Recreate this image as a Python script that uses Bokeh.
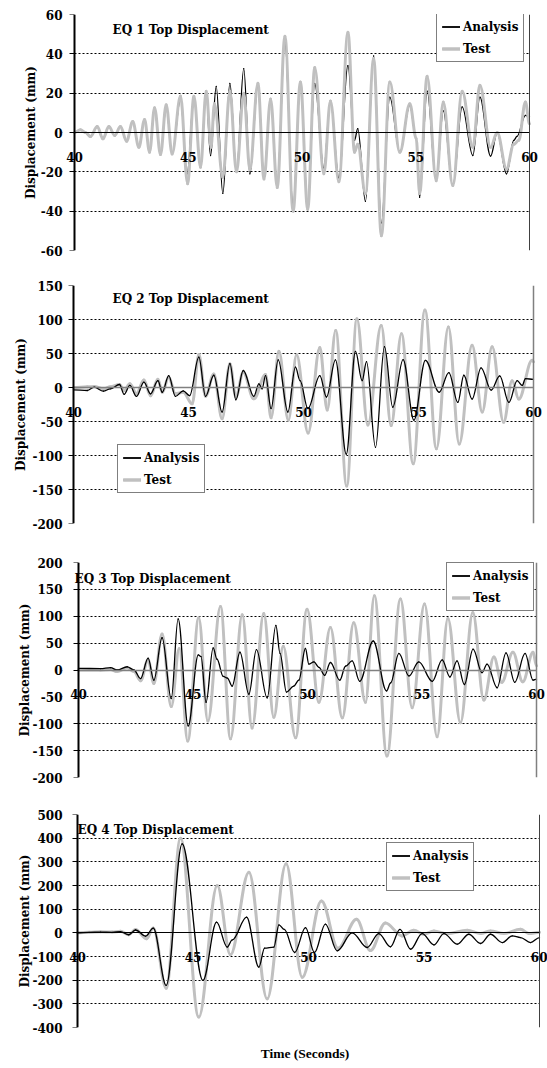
from bokeh.plotting import figure
from bokeh.layouts import column
from bokeh.models import (Range1d, FixedTicker, Legend, LegendItem, Label, Span,
                          LinearAxis, BoxAnnotation)
from bokeh.embed import file_html
from bokeh.resources import INLINE

FONT = "DejaVu Serif"
TEST_COLOR = "#C0C0C0"

x_ticks = [40, 45, 50, 55, 60]
x_label = "Time (Seconds)"
y_label = "Displacement (mm)"
series_names = ["Analysis", "Test"]
titles = ["EQ 1 Top Displacement", "EQ 2 Top Displacement",
          "EQ 3 Top Displacement", "EQ 4 Top Displacement"]

eq1_ticks = [-60, -40, -20, 0, 20, 40, 60]
eq2_ticks = [-200, -150, -100, -50, 0, 50, 100, 150]
eq3_ticks = [-200, -150, -100, -50, 0, 50, 100, 150, 200]
eq4_ticks = [-400, -300, -200, -100, 0, 100, 200, 300, 400, 500]

# (time s, displacement mm) peaks and troughs
eq1_test = [(40.0, 0), (40.26, 1.4), (40.48, 0), (40.70, -2), (41.0, 3), (41.25, -3.2), (41.51, 3),
            (41.77, -1.5), (42.02, 3), (42.29, -4.4), (42.56, 5.6), (42.83, -7.5), (43.08, 6.6),
            (43.30, -10), (43.52, 12.6), (43.78, -11.2), (44.03, 14.1), (44.29, -10.9), (44.66, 18.5),
            (44.97, -26), (45.25, 18.4), (45.54, -17.7), (45.79, 21), (46.0, -7.5), (46.15, 14.6),
            (46.52, -22.8), (46.83, 21), (47.12, -20), (47.44, 20), (47.71, -19), (48.06, 25),
            (48.33, -23.6), (48.62, 17), (48.91, -28), (49.25, 49), (49.61, -40), (49.93, 25.7),
            (50.25, -39), (50.56, 33), (50.96, -21), (51.25, 16), (51.62, -25), (52.02, 51),
            (52.31, -10), (52.45, -6), (52.79, -31), (53.15, 37.6), (53.49, -52.5), (53.86, 25.7),
            (54.30, -10), (54.74, 14.6), (55.02, -3), (55.17, -31), (55.50, 28.6), (55.90, -24.5),
            (56.21, 15.5), (56.63, -27), (57.04, 21), (57.51, -7.5), (57.82, 24), (58.29, -7.5),
            (58.58, 0), (58.99, -18.5), (59.31, -6), (59.53, -4), (59.82, 15.5), (60.0, 4.4)]
eq1_analysis = [(40.0, 0), (40.26, 1.4), (40.48, 0), (40.70, -2), (41.0, 3), (41.25, -3.2), (41.51, 3),
                (41.77, -1.5), (42.02, 3), (42.29, -4.4), (42.56, 5.6), (42.83, -7.5), (43.08, 6.6),
                (43.30, -10), (43.52, 12), (43.78, -11.5), (44.03, 13), (44.29, -11), (44.66, 17),
                (44.95, -21), (45.25, 18), (45.54, -17), (45.79, 21), (45.98, -11.7), (46.23, 23.5),
                (46.52, -31), (46.83, 25), (47.12, -20), (47.44, 32.5), (47.71, -21), (48.06, 24),
                (48.33, -22), (48.62, 16), (48.91, -26), (49.25, 46), (49.61, -38), (49.93, 25),
                (50.25, -37), (50.56, 25), (50.96, -18), (51.25, 16), (51.62, -23), (52.02, 34),
                (52.31, -4), (52.45, 2), (52.79, -35), (53.15, 39), (53.49, -46), (53.86, 18),
                (54.30, -10), (54.74, 13.8), (55.02, -3), (55.17, -33), (55.50, 21), (55.90, -24.5),
                (56.21, 11), (56.63, -27), (57.04, 13), (57.51, -11.7), (57.82, 18), (58.29, -12),
                (58.58, 0), (58.99, -21), (59.31, -4), (59.45, -2), (59.82, 8.7), (60.0, 8)]

eq2_test = [(40.0, 0), (40.6, 1), (40.9, 1.5), (41.3, -2), (41.6, 1), (42.0, 4.4), (42.2, -4.4),
            (42.45, 5.4), (42.74, -9), (43.06, 11), (43.35, -12), (43.67, 12), (43.86, -7),
            (44.14, 15), (44.43, -9), (44.77, -7), (45.16, -24), (45.45, 48.5), (45.74, -13),
            (46.10, 20), (46.46, -46), (46.80, 35), (47.06, -14), (47.38, 22.5), (47.84, -16.7),
            (48.35, 19), (48.59, -44.6), (48.93, 53.4), (49.34, -48), (49.70, 48), (50.20, -67),
            (50.71, 59), (51.03, -33), (51.40, 84), (51.88, -145), (52.32, 101), (52.80, -55),
            (53.38, 91), (53.81, -56), (54.26, 79), (54.77, -112), (55.28, 114), (55.78, -90),
            (56.30, 89), (56.77, -83), (57.33, 62), (57.77, -36), (58.20, 60), (58.70, -51),
            (59.07, 10), (59.36, -17), (59.94, 40), (60.0, 38)]
eq2_analysis = [(40.0, -3.4), (40.6, -4.4), (40.9, 0.5), (41.3, -5.4), (41.6, -2), (42.0, 4.4),
                (42.2, -10), (42.45, 3), (42.74, -13), (43.06, 8), (43.35, -9.3), (43.67, 10),
                (43.86, -7), (44.14, 17.6), (44.43, -13), (44.77, -5), (45.05, -12), (45.45, 44.6),
                (45.74, -13), (46.10, 18), (46.46, -36), (46.80, 35), (47.06, -18), (47.38, 25),
                (47.84, -13), (48.06, 5.4), (48.20, -2), (48.35, 17.6), (48.59, -31), (48.90, 40.7),
                (49.32, -36), (49.65, 30), (49.85, 10), (50.19, -31), (50.71, 17.6), (51.0, -14),
                (51.39, 40.7), (51.86, -98), (52.26, 53), (52.55, 10), (52.74, 38), (53.13, -88),
                (53.52, 60), (53.88, -29), (54.33, 41), (54.80, -48), (55.30, 40), (55.90, -7),
                (56.32, 22), (56.71, -22), (56.97, 18), (57.33, -17), (57.72, 29), (58.16, -4),
                (58.53, 17), (58.93, -22), (59.29, 10), (59.51, 3), (59.65, 13), (60.0, 12)]

eq3_test = [(40.0, 0), (40.96, 0), (41.40, 1), (41.69, -3), (42.13, 4), (42.42, -3), (42.71, -20),
            (43.04, 19), (43.29, -25), (43.65, 67), (44.05, -68), (44.40, 40), (44.77, -132),
            (45.25, 97), (45.65, -95), (46.20, 118), (46.64, -128), (47.15, 103), (47.58, -108),
            (48.09, 105), (48.53, -88), (48.94, 44), (49.48, -126), (49.98, 113), (50.50, -60),
            (51.0, 79), (51.52, -89), (52.02, 88), (52.53, -60), (52.92, 138), (53.47, -160),
            (54.06, 132), (54.57, -70), (55.11, 123), (55.66, -124), (56.13, 96), (56.68, -98),
            (57.22, 107), (57.70, -56), (58.14, 24), (58.48, -23), (58.97, 33), (59.40, -22),
            (59.85, 33), (60.0, 8)]
eq3_analysis = [(40.0, 3), (40.96, 2.5), (41.40, 4.4), (41.69, 0), (42.13, 6), (42.42, 0), (42.71, -16),
                (43.04, 22), (43.29, -19), (43.65, 60), (44.05, -53), (44.35, 95), (44.79, -104),
                (45.23, 28), (45.35, 25), (45.57, -60), (45.88, 41), (46.05, 20), (46.32, -12),
                (46.50, -15), (46.71, -30), (47.05, 33), (47.44, -45), (47.77, 38), (48.24, -52),
                (48.62, 83), (48.80, 31), (49.08, -41), (49.40, -30), (49.62, -19), (49.91, 40),
                (50.06, 11), (50.28, 15), (50.50, 5), (50.75, -10), (51.0, 14), (51.41, -19),
                (51.66, 7), (51.95, 17), (52.28, -21), (52.87, 54), (53.45, -39), (53.63, -24),
                (53.99, 31), (54.43, -11), (54.86, 15), (55.45, -21), (55.88, 19), (56.22, -13),
                (56.53, 17), (56.85, -27), (57.23, 39), (57.62, -5), (57.84, 11), (58.28, -33),
                (58.67, 32), (59.05, -23), (59.50, 31), (59.85, -19), (60.0, -17)]

eq4_test = [(40.0, 0), (40.5, 2), (41.0, 5), (41.5, 3), (41.86, 7), (42.22, -8), (42.51, 14),
            (42.99, -25), (43.28, 20), (43.84, -234), (44.46, 400), (45.25, -356), (46.05, 200),
            (46.62, -93), (47.42, 256), (48.21, -279), (49.03, 292), (49.73, -188), (50.56, 135),
            (51.28, -65), (52.08, 57), (52.68, -75), (53.33, 42), (54.05, -13), (54.56, 11),
            (54.99, -6), (55.43, 8), (56.0, -4), (56.87, 11), (57.45, -3), (57.88, 8), (58.46, -3),
            (59.18, 15), (59.54, -3), (60.0, 2)]
eq4_analysis = [(40.0, 0), (40.5, 2), (41.0, 3), (41.5, 2), (41.86, 5), (42.22, -8), (42.51, 12),
                (42.95, -14), (43.28, 20), (43.84, -222), (44.53, 376), (45.43, -201), (46.02, 45),
                (46.48, -60), (46.70, -30), (47.32, 66), (47.85, -145), (48.10, -65), (48.50, -60),
                (48.72, 34), (48.95, 15), (49.40, -83), (49.87, 22), (50.26, -83), (50.73, 37),
                (51.24, -76), (51.89, 0), (52.54, -62), (53.04, -3), (53.55, -59), (53.96, 15),
                (54.42, -69), (54.92, -3), (55.43, -51), (55.86, -3), (56.44, -48), (56.94, -6),
                (57.45, -45), (57.88, -6), (58.39, -41), (58.82, -13), (59.18, -20), (59.61, -41),
                (60.0, -20)]

PAGE_W = 547
FRAME_L = 62      # frame edge (pixels); the drawn axes sit inside it
FRAME_R = 547


def smooth_curve(p, pts, color, width):
    """Cubic Bezier pieces between read points, flat tangents at each point."""
    t, v = zip(*pts)
    x0, y0, x1, y1 = list(t[:-1]), list(v[:-1]), list(t[1:]), list(v[1:])
    k = 0.36
    cx0 = [a + k * (b - a) for a, b in zip(x0, x1)]
    cx1 = [b - k * (b - a) for a, b in zip(x0, x1)]
    r = p.bezier(x0=x0, y0=y0, x1=x1, y1=y1, cx0=cx0, cy0=y0, cx1=cx1, cy1=y1,
                 line_color=color, line_width=width, line_cap="round")
    key = p.line(x=list(t), y=list(v), line_color=color, line_width=width, visible=False)
    return [r, key]


def make_panel(title, ticks, test, analysis, height, top, bottom, vis_left, vis_right,
               zero_color, zero_width, edge_color, edge_width, test_on_top,
               legend_xy, title_xy, label_standoff):
    scale = (vis_right - vis_left) / (x_ticks[-1] - x_ticks[0])
    x_start = x_ticks[0] - (vis_left - FRAME_L) / scale
    x_end = x_ticks[-1] + (FRAME_R - vis_right) / scale
    p = figure(width=PAGE_W, height=height, title=None, toolbar_location=None,
               output_backend="svg",
               x_range=Range1d(x_start, x_end),
               y_range=Range1d(ticks[0], ticks[-1]),
               min_border_left=FRAME_L, min_border_right=PAGE_W - FRAME_R,
               min_border_top=top, min_border_bottom=bottom)
    p.outline_line_color = None
    p.background_fill_color = "white"
    p.border_fill_color = "white"

    # horizontal axis on the zero line
    xa = p.xaxis[0]
    xa.fixed_location = 0
    xa.bounds = (x_ticks[0], x_ticks[-1])
    xa.ticker = FixedTicker(ticks=x_ticks)
    xa.axis_line_color = zero_color
    xa.axis_line_width = zero_width
    xa.major_tick_line_color = None
    xa.minor_tick_line_color = None
    xa.major_tick_out = 0
    xa.major_tick_in = 0
    xa.major_label_standoff = 19
    xa.major_label_text_font = FONT
    xa.major_label_text_font_style = "bold"
    xa.major_label_text_font_size = "12px"
    xa.major_label_text_color = "black"

    # tick labels + axis title at the frame edge
    ya = p.yaxis[0]
    ya.ticker = FixedTicker(ticks=ticks)
    ya.major_label_overrides = {t: str(t) for t in ticks}
    ya.axis_line_color = None
    ya.major_tick_line_color = None
    ya.minor_tick_line_color = None
    ya.major_tick_out = 0
    ya.major_tick_in = 0
    ya.major_label_standoff = 0
    ya.major_label_text_font = FONT
    ya.major_label_text_font_style = "bold"
    ya.major_label_text_font_size = "12px"
    ya.major_label_text_color = "black"
    ya.axis_label = y_label
    ya.axis_label_text_font = FONT
    ya.axis_label_text_font_style = "bold"
    ya.axis_label_text_font_size = "12px"
    ya.axis_label_text_color = "black"
    ya.axis_label_standoff = label_standoff

    # vertical axis line with outward ticks at t = 40
    yline = LinearAxis(fixed_location=x_ticks[0], ticker=FixedTicker(ticks=ticks),
                       axis_line_color="black", axis_line_width=2,
                       major_tick_line_color="black", major_tick_out=5, major_tick_in=0,
                       minor_tick_line_color=None, major_label_text_color=None)
    p.add_layout(yline, "left")

    p.xgrid.visible = False
    p.ygrid.ticker = FixedTicker(ticks=ticks)
    p.ygrid.grid_line_color = "black"
    p.ygrid.grid_line_dash = "2 2"
    p.ygrid.grid_line_width = 1
    p.ygrid.level = "image"

    # blank the frame outside the 40-60 s plot area
    p.add_layout(BoxAnnotation(right=x_ticks[0], fill_color="white", fill_alpha=1,
                               line_color=None, level="underlay"))
    p.add_layout(BoxAnnotation(left=x_ticks[-1], fill_color="white", fill_alpha=1,
                               line_color=None, level="underlay"))
    p.add_layout(Span(location=x_ticks[-1], dimension="height",
                      line_color=edge_color, line_width=edge_width))

    if test_on_top:
        k_a = smooth_curve(p, analysis, "black", 1.3)
        k_t = smooth_curve(p, test, TEST_COLOR, 3)
    else:
        k_t = smooth_curve(p, test, TEST_COLOR, 3)
        k_a = smooth_curve(p, analysis, "black", 1.3)

    legend = Legend(items=[LegendItem(label=series_names[0], renderers=k_a),
                           LegendItem(label=series_names[1], renderers=k_t)],
                    location=legend_xy, margin=0, padding=5, spacing=7,
                    glyph_width=18, glyph_height=15, label_height=15,
                    label_standoff=3, border_line_color="black", border_line_width=1,
                    background_fill_color="white", background_fill_alpha=1,
                    label_text_font=FONT, label_text_font_style="bold",
                    label_text_font_size="12px", label_text_color="black")
    p.add_layout(legend)

    p.add_layout(Label(x=title_xy[0], y=title_xy[1], x_units="screen", y_units="screen",
                       text=title, text_font=FONT, text_font_style="bold",
                       text_font_size="12px", text_color="black",
                       text_align="left", text_baseline="middle"))
    return p


p1 = make_panel(titles[0], eq1_ticks, eq1_test, eq1_analysis, 268, 14, 18, 74, 529,
                "black", 1, "#404040", 1, True, (374, 188), (50, 221), 0)
p2 = make_panel(titles[1], eq2_ticks, eq2_test, eq2_analysis, 277, 17, 22, 73, 533,
                "#808080", 1.5, "#808080", 1.5, False, (55, 30), (50, 225), 1)
p3 = make_panel(titles[2], eq3_ticks, eq3_test, eq3_analysis, 252, 17, 20, 78, 536,
                "#808080", 1.5, "#808080", 1.5, False, (384, 166), (12, 199), -3)
p4 = make_panel(titles[3], eq4_ticks, eq4_test, eq4_analysis, 271, 17, 41, 77, 539,
                "black", 1, "#404040", 1, False, (324, 136), (15, 198), -3)

time_axis = LinearAxis(ticker=FixedTicker(ticks=[]), axis_line_color=None,
                       major_tick_line_color=None, minor_tick_line_color=None,
                       major_tick_out=0, major_tick_in=0, major_label_standoff=0,
                       axis_label=x_label, axis_label_standoff=18,
                       axis_label_text_font="Liberation Serif",
                       axis_label_text_font_style="bold",
                       axis_label_text_font_size="13.5px",
                       axis_label_text_color="black")
p4.add_layout(time_axis, "below")

layout = column(p1, p2, p3, p4, spacing=0)
open("out.html", "w").write(file_html(layout, INLINE))
